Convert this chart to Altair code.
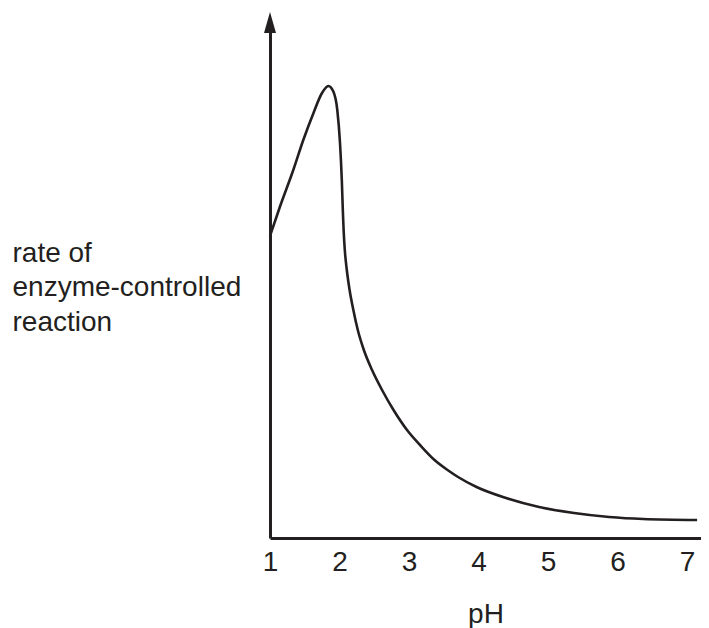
import altair as alt
import pandas as pd

# Values
ph = [1.0, 1.144, 1.335, 1.479, 1.623, 1.744, 1.839, 1.911, 1.968, 2.007,
      2.033, 2.049, 2.059, 2.076, 2.105, 2.145, 2.199, 2.263, 2.350, 2.468,
      2.612, 2.777, 2.971, 3.158, 3.367, 3.554, 3.705, 3.971, 4.396, 4.871,
      5.374, 5.878, 6.367, 7.144]
rate = [60.4, 66.3, 73.6, 79.6, 84.9, 88.9, 90.4, 89.3, 85.6, 79.0,
        71.6, 65.0, 61.6, 57.6, 53.6, 49.6, 45.6, 41.6, 37.6, 33.6,
        29.6, 25.6, 21.6, 18.6, 15.6, 13.6, 12.2, 10.2, 8.0, 6.2,
        5.0, 4.2, 3.8, 3.6]
x_ticks = [1, 2, 3, 4, 5, 6, 7]
x_title = "pH"
y_title = ["rate of", "enzyme-controlled", "reaction"]

X_MIN, X_MAX = 1.0, 7.2
Y_MAX = 103.1
ink = "#231f20"
font = "Liberation Sans"
fs = 28

df = pd.DataFrame({"pH": ph, "rate": rate})
arrow_df = pd.DataFrame({"pH": [X_MIN], "rate": [Y_MAX]})

xs = alt.Scale(domain=[X_MIN, X_MAX], nice=False, zero=False)
ys = alt.Scale(domain=[0, Y_MAX], nice=False)

line = alt.Chart(df).mark_line(
    color=ink, strokeWidth=2.6, interpolate="monotone"
).encode(
    x=alt.X("pH:Q", scale=xs, axis=alt.Axis(
        values=x_ticks, format="d", ticks=False, grid=False, domainColor=ink,
        domainWidth=3, labelFontSize=fs, labelColor=ink, labelFont=font,
        labelPadding=10, labelFlush=False,
        title=x_title, titleFontSize=fs, titleFont=font, titleFontWeight="normal",
        titleColor=ink, titlePadding=24)),
    y=alt.Y("rate:Q", scale=ys, axis=alt.Axis(
        labels=False, ticks=False, grid=False, domainColor=ink, domainWidth=3,
        title=y_title, titleAngle=0, titleAlign="left", titleBaseline="alphabetic",
        titleX=-258, titleY=238.5, titleFontSize=fs, titleFont=font,
        titleFontWeight="normal", titleColor=ink, titleLineHeight=34.5)),
)

arrow = alt.Chart(arrow_df).mark_point(
    shape="M0,-1L0.57,1L-0.57,1Z", size=441, filled=True, color=ink, opacity=1
).encode(
    x=alt.X("pH:Q", scale=xs),
    y=alt.Y("rate:Q", scale=ys),
)

chart = alt.layer(line, arrow).properties(
    width=431, height=515.5,
    autosize=alt.AutoSizeParams(type="none"),
    padding={"left": 262, "top": 14.5, "right": 0, "bottom": 90},
).configure_view(stroke=None)

chart.save("out.html", embed_options={"renderer": "svg", "actions": False})
